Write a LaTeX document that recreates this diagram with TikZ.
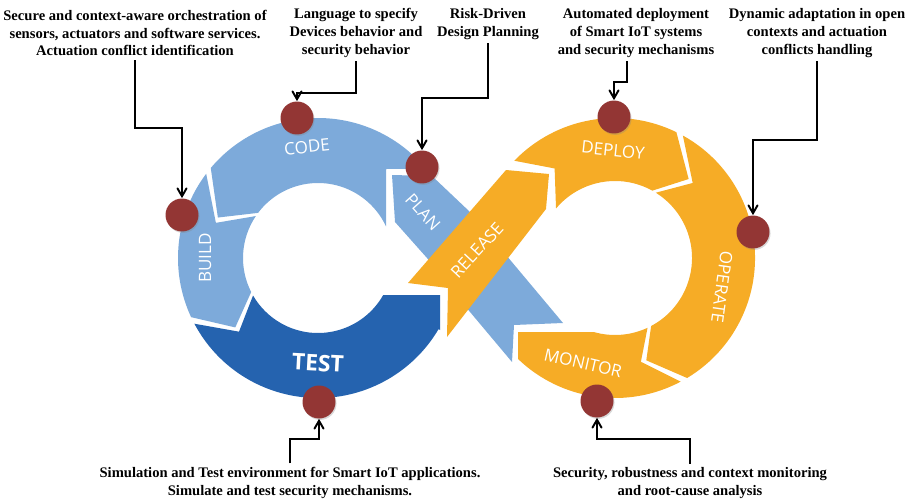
\documentclass[tikz,border=0pt]{standalone}
\usepackage{fontspec}
\setmainfont{Liberation Serif}
\newfontfamily\segfont{Open Sans}
\usetikzlibrary{arrows,calc,positioning,shadows}

\definecolor{devblue}{RGB}{125,170,218}
\definecolor{testblue}{RGB}{37,99,175}
\definecolor{opsorange}{RGB}{246,172,38}
\definecolor{dotred}{RGB}{147,54,52}

\begin{document}
\begin{tikzpicture}
    [
      x=0.02cm, y=-0.02cm,
      devseg/.style={fill=devblue},
      testseg/.style={fill=testblue},
      opsseg/.style={fill=opsorange},
      phase/.style={text=white,inner sep=0pt,font=\segfont\fontsize{9.7}{10}\selectfont},
      hotspot/.style={circle,minimum size=0.66cm,inner sep=0pt,fill=dotred,
        drop shadow={opacity=0.3,shadow xshift=0.6pt,shadow yshift=-0.8pt}},
      callout/.style={align=center,inner sep=2pt,font=\fontsize{8.3}{10.2}\selectfont\bfseries},
      post/.style={->,>=angle 60,line width=1.1pt},
    ]

    \useasboundingbox (0,0) rectangle (912,500);

    \begin{scope}[shift={(318,258)}]
      \fill [devseg] (-39.5:140) arc [start angle=-39.5, end angle=-140, radius=140]
        -- (-158:108) -- (-143:75) arc [start angle=-143, end angle=-24.9, radius=75]
        -- (68,-89) -- cycle;
      \fill [devseg] (-143:140) arc [start angle=-143, end angle=-205, radius=140]
        -- (-220:108) -- (-207:75) arc [start angle=-207, end angle=-146, radius=75]
        -- (-161:108) -- cycle;
      \fill [testseg] (152:140) arc [start angle=152, end angle=30.5, radius=140]
        -- (122,72) -- (122,37) -- (29.6:75) arc [start angle=29.6, end angle=150, radius=75]
        -- (137:108) -- cycle;
    \end{scope}

    \fill [devseg] (392,175) -- (432,176) -- (470,212) -- (563,323) -- (514,325)
      -- (512,362) -- (465,306) -- (427,258) -- (395,222) -- cycle;
    \fill [opsseg] (408,283) -- (506,170) -- (549,174) -- (546,209) -- (447,337)
      -- (448,288) -- cycle;

    \begin{scope}[shift={(615,258)}]
      \fill [opsseg] (-136:140) arc [start angle=-136, end angle=-64, radius=140]
        -- (-47:108) -- (-61:77) arc [start angle=-61, end angle=-140, radius=77]
        -- (-124:108) -- cycle;
      \fill [opsseg] (-61:140) arc [start angle=-61, end angle=59, radius=140]
        -- (73:107) -- (62:77) arc [start angle=62, end angle=-58, radius=77]
        -- (-44:108) -- cycle;
      \fill [opsseg] (62:140) arc [start angle=62, end angle=133.8, radius=140]
        -- (-97,74) -- (105.6:77) arc [start angle=105.6, end angle=65, radius=77]
        -- (76:107) -- cycle;
    \end{scope}

    \node (code) [phase, rotate=6] at (307,147) {CODE};
    \node (build) [phase, rotate=90] at (205,258) {BUILD};
    \node (test) [phase, rotate=-3, font=\segfont\fontsize{13}{14}\selectfont\bfseries] at (318,363) {TEST};
    \node (plan) [phase, rotate=-48] at (423,212) {PLAN};
    \node (release) [phase, rotate=47] at (477,250) {RELEASE};
    \node (deploy) [phase, rotate=-6] at (613,150) {DEPLOY};
    \node (operate) [phase, rotate=-98] at (722,287) {OPERATE};
    \node (monitor) [phase, rotate=-13] at (583,363) {MONITOR};

    \node (build-dot) [hotspot] at (182,215) {};
    \node (code-dot) [hotspot] at (297,118) {};
    \node (plan-dot) [hotspot] at (422,167) {};
    \node (deploy-dot) [hotspot] at (614,117) {};
    \node (operate-dot) [hotspot] at (753,232) {};
    \node (test-dot) [hotspot] at (319,402) {};
    \node (monitor-dot) [hotspot] at (597,401) {};

    \node (orch) [callout] at (135,33) {Secure and context-aware orchestration of\\sensors, actuators and software services.\\Actuation conflict identification};
    \node (lang) [callout] at (356,33) {Language to specify\\Devices behavior and\\security behavior};
    \node (risk) [callout] at (488,24) {Risk-Driven\\Design Planning};
    \node (auto) [callout] at (636,33) {Automated deployment\\of Smart IoT systems\\and security mechanisms};
    \node (adapt) [callout] at (817,33) {Dynamic adaptation in open\\contexts and actuation\\conflicts handling};
    \node (simu) [callout] at (290,483) {Simulation and Test environment for Smart IoT applications.\\Simulate and test security mechanisms.};
    \node (secu) [callout] at (690,483) {Security, robustness and context monitoring\\and root-cause analysis};

    \coordinate (orch-bend) at (182,128);
    \coordinate (lang-bend) at (297,93);
    \coordinate (risk-bend) at (422,98);
    \coordinate (auto-bend) at (614,82);
    \coordinate (adapt-bend) at (753,140);
    \coordinate (simu-bend) at (319,439);
    \coordinate (secu-bend) at (597,439);

    \draw [post] (orch.south) |- (orch-bend) -- (build-dot);
    \draw [post] (lang.south) |- (lang-bend) -- (code-dot);
    \draw [post] (risk.south) |- (risk-bend) -- (plan-dot);
    \draw [post] ($(auto.south)+(-9,0)$) |- (auto-bend) -- (deploy-dot);
    \draw [post] (adapt.south) |- (adapt-bend) -- (operate-dot);
    \draw [post] (simu.north) |- (simu-bend) -- (test-dot);
    \draw [post] (secu.north) |- (secu-bend) -- (monitor-dot);

  \end{tikzpicture}
\end{document}
